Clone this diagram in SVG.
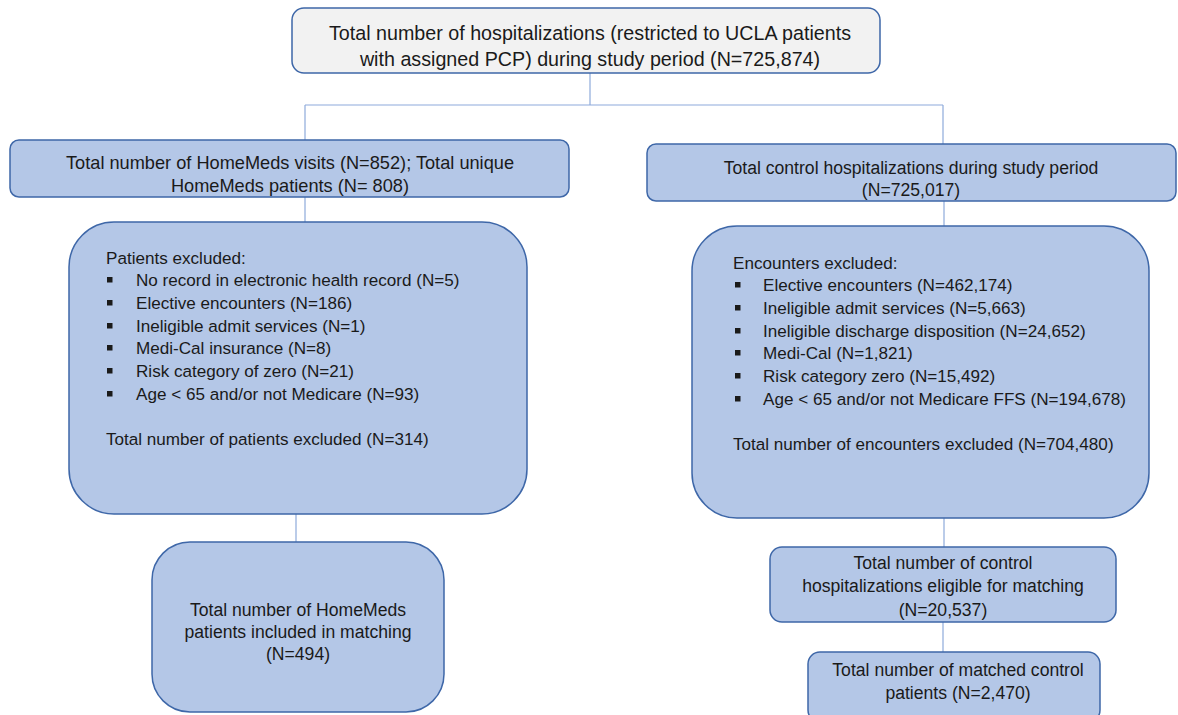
<svg xmlns="http://www.w3.org/2000/svg" width="1178" height="715" viewBox="0 0 1178 715">
<style>
.box{fill:#b4c7e7;stroke:#3e67a8;stroke-width:1.5}
.top{fill:#f2f2f2;stroke:#3e67a8;stroke-width:1.5}
.t{font-family:"Liberation Sans",Arial,sans-serif;fill:#1a1a1a}
.c{text-anchor:middle}
.s16{font-size:17.6px}
.s15{font-size:17.1px}
.s18{font-size:19.7px}
.conn line{stroke:#8eaadb;stroke-width:1.2}
.b{fill:#1a1a1a}
</style>
<rect width="1178" height="715" fill="#ffffff"/>
<g id="connectors" class="conn">
<line x1="590" y1="73" x2="590" y2="105"/>
<line x1="305" y1="105" x2="943" y2="105"/>
<line x1="305" y1="105" x2="305" y2="140"/>
<line x1="943" y1="105" x2="943" y2="144"/>
<line x1="305" y1="197" x2="305" y2="222"/>
<line x1="944" y1="201" x2="944" y2="226"/>
<line x1="296" y1="514" x2="296" y2="545"/>
<line x1="944" y1="518" x2="944" y2="547"/>
<line x1="943" y1="622" x2="943" y2="652"/>
</g>
<g id="n_total">
<rect class="top" x="292" y="8" width="588" height="65" rx="12"/>
<text class="t c s18" x="590" y="40">Total number of hospitalizations (restricted to UCLA patients</text>
<text class="t c s18" x="590" y="66">with assigned PCP) during study period (N=725,874)</text>
</g>
<g id="n_homemeds">
<rect class="box" x="10" y="140" width="559" height="57" rx="9"/>
<text class="t c s16" style="font-size:18.2px" x="290" y="169">Total number of HomeMeds visits (N=852); Total unique</text>
<text class="t c s16" style="font-size:18.2px" x="290" y="192">HomeMeds patients (N= 808)</text>
</g>
<g id="n_control">
<rect class="box" x="647" y="144" width="529" height="57" rx="9"/>
<text class="t c s16" x="911" y="174">Total control hospitalizations during study period</text>
<text class="t c s16" x="911" y="196">(N=725,017)</text>
</g>
<g id="n_pat_excl">
<rect class="box" x="69" y="222" width="458" height="292" rx="45"/>
<text class="t s15" x="106" y="264">Patients excluded:</text>
<rect class="b" x="107" y="277" width="5.5" height="5.5"/>
<text class="t s15" x="136" y="286">No record in electronic health record (N=5)</text>
<rect class="b" x="107" y="300" width="5.5" height="5.5"/>
<text class="t s15" x="136" y="309">Elective encounters (N=186)</text>
<rect class="b" x="107" y="323" width="5.5" height="5.5"/>
<text class="t s15" x="136" y="332">Ineligible admit services (N=1)</text>
<rect class="b" x="107" y="345" width="5.5" height="5.5"/>
<text class="t s15" x="136" y="354">Medi-Cal insurance (N=8)</text>
<rect class="b" x="107" y="368" width="5.5" height="5.5"/>
<text class="t s15" x="136" y="377">Risk category of zero (N=21)</text>
<rect class="b" x="107" y="391" width="5.5" height="5.5"/>
<text class="t s15" x="136" y="400">Age &lt; 65 and/or not Medicare (N=93)</text>
<text class="t s15" x="106" y="445">Total number of patients excluded (N=314)</text>
</g>
<g id="n_enc_excl">
<rect class="box" x="692" y="226" width="457" height="292" rx="45"/>
<text class="t s15" x="733" y="269">Encounters excluded:</text>
<rect class="b" x="735" y="282" width="5.5" height="5.5"/>
<text class="t s15" x="763" y="291">Elective encounters (N=462,174)</text>
<rect class="b" x="735" y="305" width="5.5" height="5.5"/>
<text class="t s15" x="763" y="314">Ineligible admit services (N=5,663)</text>
<rect class="b" x="735" y="328" width="5.5" height="5.5"/>
<text class="t s15" x="763" y="337">Ineligible discharge disposition (N=24,652)</text>
<rect class="b" x="735" y="350" width="5.5" height="5.5"/>
<text class="t s15" x="763" y="359">Medi-Cal (N=1,821)</text>
<rect class="b" x="735" y="373" width="5.5" height="5.5"/>
<text class="t s15" x="763" y="382">Risk category zero (N=15,492)</text>
<rect class="b" x="735" y="396" width="5.5" height="5.5"/>
<text class="t s15" x="763" y="405">Age &lt; 65 and/or not Medicare FFS (N=194,678)</text>
<text class="t s15" x="733" y="450">Total number of encounters excluded (N=704,480)</text>
</g>
<g id="n_homemeds_incl">
<rect class="box" x="152" y="542" width="292" height="170" rx="38"/>
<text class="t c s16" x="298" y="616">Total number of HomeMeds</text>
<text class="t c s16" x="298" y="638">patients included in matching</text>
<text class="t c s16" x="298" y="660">(N=494)</text>
</g>
<g id="n_control_elig">
<rect class="box" x="770" y="547" width="346" height="75" rx="12"/>
<text class="t c s16" x="943" y="569">Total number of control</text>
<text class="t c s16" x="943" y="592">hospitalizations eligible for matching</text>
<text class="t c s16" x="943" y="616">(N=20,537)</text>
</g>
<g id="n_matched">
<rect class="box" x="808" y="652" width="292" height="70" rx="12"/>
<text class="t c s16" x="958" y="676">Total number of matched control</text>
<text class="t c s16" x="958" y="699">patients (N=2,470)</text>
</g>
</svg>
